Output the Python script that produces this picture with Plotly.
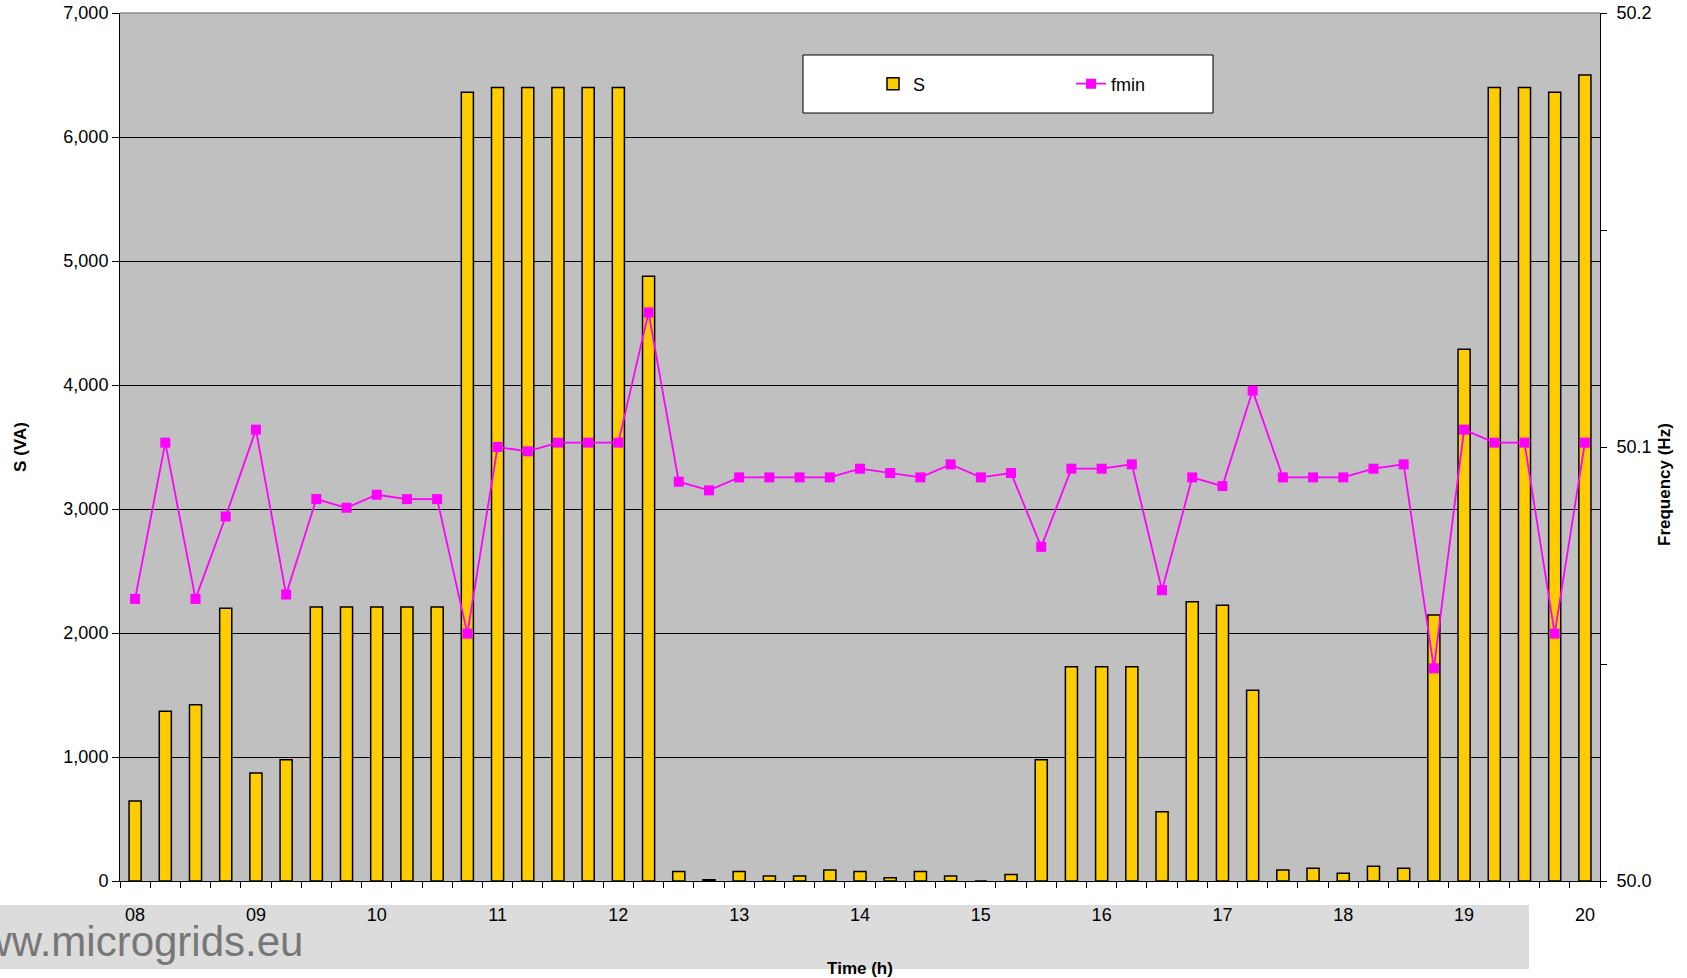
import plotly.graph_objects as go

# ---- data ----
times = ["08:00", "08:15", "08:30", "08:45", "09:00", "09:15", "09:30", "09:45",
         "10:00", "10:15", "10:30", "10:45", "11:00", "11:15", "11:30", "11:45",
         "12:00", "12:15", "12:30", "12:45", "13:00", "13:15", "13:30", "13:45",
         "14:00", "14:15", "14:30", "14:45", "15:00", "15:15", "15:30", "15:45",
         "16:00", "16:15", "16:30", "16:45", "17:00", "17:15", "17:30", "17:45",
         "18:00", "18:15", "18:30", "18:45", "19:00", "19:15", "19:30", "19:45",
         "20:00"]

s_va = [645, 1369, 1422, 2200, 871, 978, 2210, 2210, 2210, 2210, 2210,
        6360, 6400, 6400, 6400, 6400, 6400, 4877, 77, 10, 76, 40, 40, 89,
        76, 26, 76, 40, 0, 53, 977, 1727, 1727, 1727, 559, 2253, 2224, 1539,
        89, 102, 62, 118, 102, 2145, 4289, 6400, 6400, 6360, 6500]

fmin = [50.065, 50.101, 50.065, 50.084, 50.104, 50.066, 50.088, 50.086, 50.089,
        50.088, 50.088, 50.057, 50.100, 50.099, 50.101, 50.101, 50.101, 50.131,
        50.092, 50.090, 50.093, 50.093, 50.093, 50.093, 50.095, 50.094, 50.093,
        50.096, 50.093, 50.094, 50.077, 50.095, 50.095, 50.096, 50.067, 50.093,
        50.091, 50.113, 50.093, 50.093, 50.093, 50.095, 50.096, 50.049, 50.104,
        50.101, 50.101, 50.057, 50.101]

hour_ticks = ["08:00", "09:00", "10:00", "11:00", "12:00", "13:00", "14:00",
              "15:00", "16:00", "17:00", "18:00", "19:00", "20:00"]
hour_labels = ["08", "09", "10", "11", "12", "13", "14", "15", "16", "17",
               "18", "19", "20"]

DAY = "2024-01-01 "
x = [DAY + t for t in times]

FONT = "Liberation Sans"
W, H = 1687, 978
L, R, T, B = 120, 87, 13, 97
pw, ph = W - L - R, H - T - B


def px(xp):
    return (xp - L) / pw


def py(yp):
    return (H - B - yp) / ph


fig = go.Figure()
fig.add_trace(go.Bar(
    x=x, y=s_va, name="S",
    marker=dict(color="#FFCC00", line=dict(color="black", width=1.5)),
    yaxis="y",
))
fig.add_trace(go.Scatter(
    x=x, y=fmin, name="fmin", mode="lines+markers",
    line=dict(color="#FF00FF", width=1.8),
    marker=dict(symbol="square", size=10, color="#FF00FF"),
    yaxis="y2",
))

fig.update_layout(
    width=W, height=H,
    margin=dict(l=L, r=R, t=T, b=B, pad=0),
    paper_bgcolor="white",
    plot_bgcolor="#C0C0C0",
    bargap=0.6,
    font=dict(family=FONT, size=18, color="black"),
    showlegend=True,
    legend=dict(
        orientation="h", x=px(873), y=py(84), xanchor="left", yanchor="middle",
        bgcolor="rgba(0,0,0,0)", borderwidth=0,
        font=dict(family=FONT, size=18),
        entrywidth=153, entrywidthmode="pixels",
    ),
    xaxis=dict(
        type="date",
        range=[DAY + "07:52:30", DAY + "20:07:30"],
        tickvals=[DAY + t for t in hour_ticks],
        ticktext=hour_labels,
        ticks="outside", ticklen=6, tickcolor="rgba(0,0,0,0)",
        ticklabelstandoff=11,
        minor=dict(ticks="outside", ticklen=6, tickcolor="black",
                   dtick=900000, tick0=DAY + "07:52:30", showgrid=False),
        showline=True, linecolor="black", linewidth=1,
        showgrid=False, zeroline=False,
        tickfont=dict(family=FONT, size=18),
        title=dict(text="Time (h)", font=dict(family=FONT, size=17, weight="bold"),
                   standoff=42),
        automargin=False,
    ),
    yaxis=dict(
        range=[0, 7000], dtick=1000, tickformat=",",
        showgrid=True, gridcolor="black", gridwidth=1,
        showline=True, linecolor="black", linewidth=1,
        ticks="outside", ticklen=7, tickcolor="black",
        zeroline=False,
        tickfont=dict(family=FONT, size=18),
        title=dict(text="S (VA)", font=dict(family=FONT, size=17, weight="bold"),
                   standoff=32),
        automargin=False,
    ),
    yaxis2=dict(
        overlaying="y", side="right",
        range=[50.0, 50.2], dtick=0.1, tickformat=".1f",
        showgrid=False, zeroline=False,
        showline=True, linecolor="black", linewidth=1,
        ticks="outside", ticklen=6, tickcolor="black",
        minor=dict(ticks="outside", ticklen=6, tickcolor="black", dtick=0.05,
                   showgrid=False),
        ticklabelstandoff=6,
        tickfont=dict(family=FONT, size=18),
        automargin=False,
    ),
    shapes=[
        # grey band behind the time axis labels
        dict(type="rect", xref="paper", yref="paper", layer="below",
             x0=px(0), x1=px(1529), y0=py(969), y1=py(905),
             fillcolor="#DCDCDC", line=dict(width=0)),
        # legend frame
        dict(type="rect", xref="paper", yref="paper", layer="above",
             x0=px(803), x1=px(1213), y0=py(113), y1=py(55),
             fillcolor="white", line=dict(color="black", width=1)),
        # top border of the plot area
        dict(type="line", xref="paper", yref="paper", layer="above",
             x0=0, x1=1, y0=1, y1=1, line=dict(color="#8C8C8C", width=1.5)),
    ],
    annotations=[
        dict(text="www.microgrids.eu", xref="paper", yref="paper",
             x=px(305), y=py(941), xanchor="right", yanchor="middle",
             showarrow=False,
             font=dict(family=FONT, size=42, color="#777777")),
        dict(text="Frequency (Hz)", xref="paper", yref="paper",
             x=px(1664), y=py(485), xanchor="center", yanchor="middle",
             textangle=-90, showarrow=False,
             font=dict(family=FONT, size=17, weight="bold")),
    ],
)

fig.write_html("out.html",
               config={"displayModeBar": False},
               post_script="document.body.style.margin='0';"
                           "document.body.style.overflow='hidden';")
